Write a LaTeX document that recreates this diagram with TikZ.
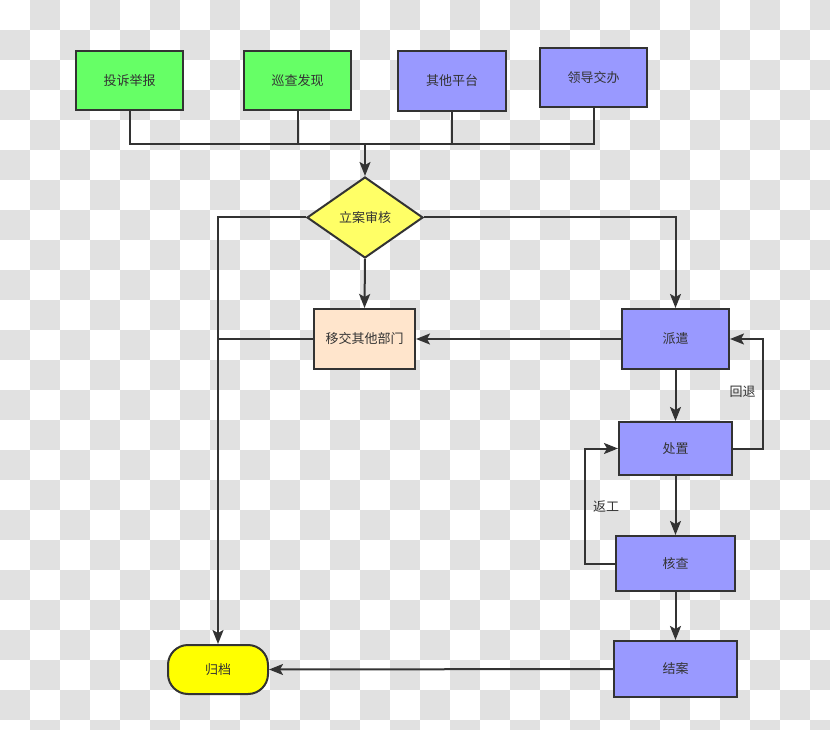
\documentclass[tikz,border=0pt]{standalone}
\usepackage{fontspec}
\newfontfamily\cjk{Noto Sans CJK SC}
\usetikzlibrary{arrows.meta,positioning,shapes.geometric}

\definecolor{checkgrey}{HTML}{E1E1E1}
\definecolor{linegrey}{HTML}{333333}
\definecolor{srcgreen}{HTML}{66FF66}
\definecolor{srcblue}{HTML}{9999FF}
\definecolor{diayellow}{HTML}{FFFF66}
\definecolor{peach}{HTML}{FFE5CC}
\definecolor{endyellow}{HTML}{FFFF00}

\begin{document}
\begin{tikzpicture}[
  x=1pt,
  y=-1pt,
  font=\cjk\fontsize{13}{15}\selectfont,
  >={Stealth[length=14pt,width=11pt,inset=3pt]},
  box/.style={draw=linegrey, line width=2pt, minimum width=107pt, minimum height=59pt, align=center, inner sep=2pt, text=linegrey},
  green/.style={box, fill=srcgreen},
  blue/.style={box, fill=srcblue},
  check/.style={draw=linegrey, line width=2pt, shape=diamond, aspect=1.43, fill=diayellow, minimum width=116pt, minimum height=81pt, inner sep=0pt, text=linegrey},
  archive/.style={draw=linegrey, line width=2pt, fill=endyellow, rounded corners=20pt, minimum width=100pt, minimum height=49pt, text=linegrey},
  link/.style={draw=linegrey, line width=2pt},
  flow/.style={link, ->},
  tag/.style={text=linegrey, inner sep=1pt}
]
  \useasboundingbox (0,0) rectangle (830,730);
  % checker background
  \begin{scope}
    \clip (0,0) rectangle (830,730);
    \fill[white] (0,0) rectangle (830,730);
    \foreach \i in {0,...,27}{
      \foreach \j in {0,...,24}{
        \ifodd\numexpr\i+\j\relax
          \fill[checkgrey] (30*\i,30*\j) rectangle ++(30,30);
        \fi
      }
    }
  \end{scope}

  % sources
  \node[green] (tousu) at (129.5,80.5) {投诉举报};
  \node[green] (xuncha) at (297.5,80.5) {巡查发现};
  \node[blue, minimum width=108pt, minimum height=60pt] (qita) at (452,81) {其他平台};
  \node[blue] (lingdao) at (593.5,78) {领导交办};
  \coordinate (bus) at (365,144);

  \node[check] (shenhe) at (365,217.5) {立案审核};
  \node[box, fill=peach, minimum width=101pt, minimum height=60pt] (yijiao) at (364.5,339) {移交其他部门};

  \node[blue, minimum height=60pt] (paiqian) at (675.5,339) {派遣};
  \node[blue, minimum width=113pt, minimum height=53pt] (chuzhi) at (675.5,448.5) {处置};
  \node[blue, minimum width=119pt, minimum height=55pt] (hecha) at (675.5,563.5) {核查};
  \node[blue, minimum width=123pt, minimum height=56pt] (jiean) at (675.5,669) {结案};
  \node[archive] (guidang) at (218,669.5) {归档};

  \node[tag] (huitui) at (742.5,391.5) {回退};
  \node[tag] (fangong) at (606,506.5) {返工};

  % collect
  \draw[link] (tousu.south) |- (bus) -| (lingdao.south);
  \draw[link] (xuncha.south) -- (xuncha.south |- bus);
  \draw[link] (qita.south) -- (qita.south |- bus);
  \draw[flow] (bus) -- (shenhe.north);

  % review
  \draw[flow] (shenhe.west) -| (guidang.north);
  \draw[flow] (shenhe.south) -- (yijiao.north);
  \draw[flow] (shenhe.east) -| (paiqian.north);
  \draw[link] (yijiao.west) -- (yijiao.west -| guidang.north);

  % handling
  \draw[flow] (paiqian.west) -- (yijiao.east);
  \draw[flow] (paiqian.south) -- (chuzhi.north);
  \draw[flow] (chuzhi.east) -- ++(30,0) |- (paiqian.east);
  \draw[flow] (chuzhi.south) -- (hecha.north);
  \draw[flow] (hecha.west) -- ++(-30,0) |- (chuzhi.west);
  \draw[flow] (hecha.south) -- (jiean.north);
  \draw[flow] (jiean.west) -- (guidang.east);
\end{tikzpicture}
\end{document}
